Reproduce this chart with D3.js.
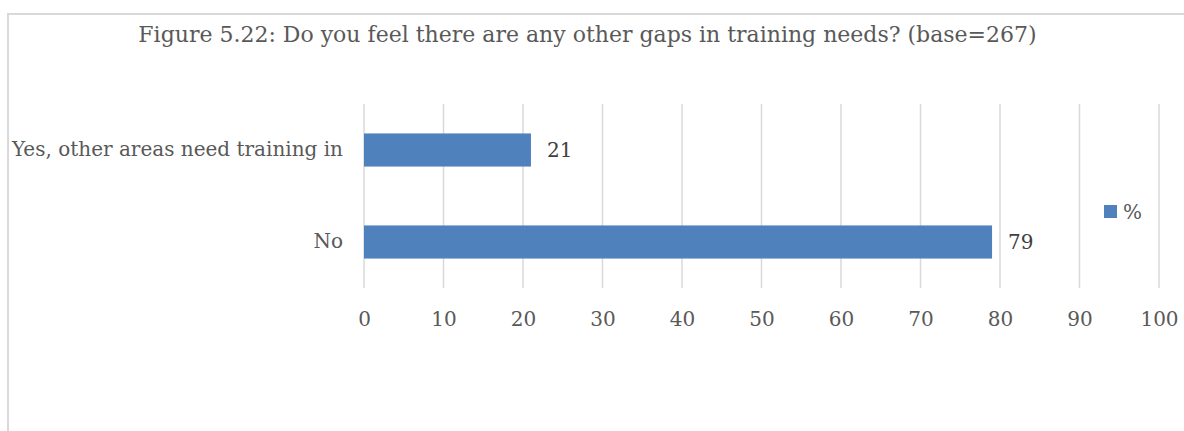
<!DOCTYPE html>
<html>
<head>
<meta charset="utf-8">
<script src="https://cdn.jsdelivr.net/npm/d3@7"></script>
<style>
  html, body { margin: 0; padding: 0; background: #fff; }
  svg { display: block; }
</style>
</head>
<body>
<script>
const titleText = "Figure 5.22: Do you feel there are any other gaps in training needs? (base=267)";
const categories = ["Yes, other areas need training in", "No"];
const values = [21, 79];
const seriesName = "%";
const tickValues = [0, 10, 20, 30, 40, 50, 60, 70, 80, 90, 100];

const W = 1184, H = 431;
const FONT = "'DejaVu Serif', 'Liberation Serif', serif";
const svg = d3.select("body").append("svg").attr("width", W).attr("height", H);

// chart border
svg.append("path")
  .attr("d", `M8,${H + 5} L8,14 L${W + 5},14`)
  .attr("fill", "none").attr("stroke", "#d9d9d9").attr("stroke-width", 2);

// title
svg.append("text")
  .attr("x", 587.5).attr("y", 42)
  .attr("text-anchor", "middle")
  .attr("font-family", FONT).attr("font-size", 22)
  .attr("fill", "#595959")
  .text(titleText);

const x = d3.scaleLinear().domain([0, 100]).range([364, 1159]);
const y = d3.scaleBand().domain(categories).range([104, 288])
  .paddingInner(0.64).paddingOuter(0.32);

// gridlines
svg.append("g")
  .selectAll("line").data(tickValues).join("line")
  .attr("x1", d => x(d)).attr("x2", d => x(d))
  .attr("y1", 104).attr("y2", 288)
  .attr("stroke", "#d9d9d9").attr("stroke-width", 1.5);

// bars
svg.append("g")
  .selectAll("rect").data(values).join("rect")
  .attr("x", x(0))
  .attr("y", (d, i) => y(categories[i]))
  .attr("width", d => x(d) - x(0))
  .attr("height", y.bandwidth())
  .attr("fill", "#4f81bd");

// data labels
svg.append("g")
  .selectAll("text").data(values).join("text")
  .attr("x", d => x(d) + 16)
  .attr("y", (d, i) => y(categories[i]) + y.bandwidth() / 2)
  .attr("dy", "0.35em")
  .attr("font-family", FONT).attr("font-size", 20)
  .attr("fill", "#404040")
  .text(d => d);

// x axis tick labels
const xAxis = d3.axisBottom(x).tickValues(tickValues).tickSize(0).tickPadding(0);
const gx = svg.append("g").attr("transform", "translate(0,310)").call(xAxis);
gx.select(".domain").remove();
gx.selectAll("text")
  .attr("font-family", FONT).attr("font-size", 20)
  .attr("fill", "#595959").attr("dy", "0.8em");

// y axis category labels
const yAxis = d3.axisLeft(y).tickSize(0).tickPadding(0);
const gy = svg.append("g").attr("transform", "translate(343,0)").call(yAxis);
gy.select(".domain").remove();
gy.selectAll("text")
  .attr("font-family", FONT).attr("font-size", 20)
  .attr("fill", "#595959");

// legend
const lg = svg.append("g").attr("transform", "translate(1104,205)");
lg.append("rect").attr("width", 13).attr("height", 13).attr("fill", "#4f81bd");
lg.append("text").attr("x", 19).attr("y", 6.5).attr("dy", "0.35em")
  .attr("font-family", FONT).attr("font-size", 20)
  .attr("fill", "#595959").text(seriesName);
</script>
</body>
</html>
